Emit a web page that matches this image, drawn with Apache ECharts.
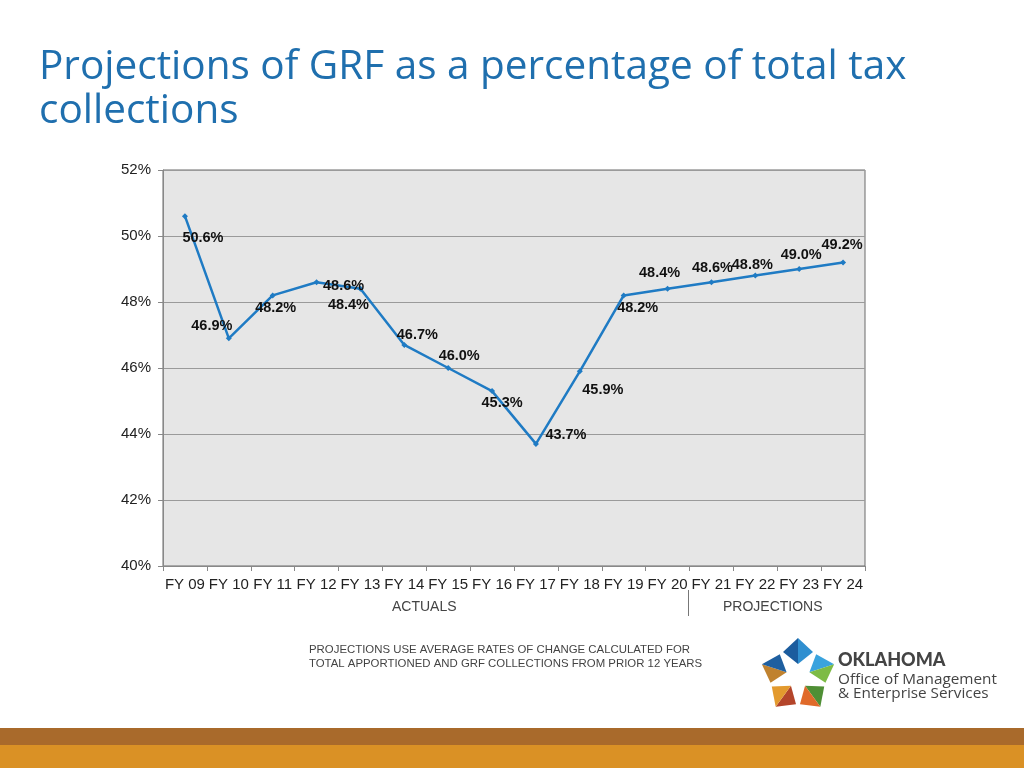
<!DOCTYPE html>
<html>
<head>
<meta charset="utf-8">
<script src="https://cdn.jsdelivr.net/npm/echarts@6/dist/echarts.min.js"></script>
<style>
html,body{margin:0;padding:0;background:#fff;}
#chart{width:1024px;height:768px;}
</style>
</head>
<body>
<div id="chart"></div>
<script>
var categories = ['FY 09','FY 10','FY 11','FY 12','FY 13','FY 14','FY 15','FY 16','FY 17','FY 18','FY 19','FY 20','FY 21','FY 22','FY 23','FY 24'];
var values = [50.6, 46.9, 48.2, 48.6, 48.4, 46.7, 46.0, 45.3, 43.7, 45.9, 48.2, 48.4, 48.6, 48.8, 49.0, 49.2];
var yTicks = [40, 42, 44, 46, 48, 50, 52];
var sectionLabels = ['ACTUALS', 'PROJECTIONS'];
var footnote = ['PROJECTIONS USE AVERAGE RATES OF CHANGE CALCULATED FOR', 'TOTAL APPORTIONED AND GRF COLLECTIONS FROM PRIOR 12 YEARS'];

// label placement offsets (pixels from point to label centre)
var labelOffsets = [[18,22],[-17,-12],[3,13],[27,4],[-12,16],[13,-10],[11,-12],[10,12],[30,-9],[23,19],[14,13],[-8,-16],[1,-14],[-3,-11],[2,-14],[-1,-17]];

var seriesData = values.map(function(v, i){
  return {value: v, label: {offset: labelOffsets[i]}};
});

// logo pieces
var logoCx = 798, logoCy = 676;
var logoColors = [['#1b5c9e','#2f8fd0'],['#3aa3de','#7dbb45'],['#4f8f35','#e06a2a'],['#b4452a','#e39a2e'],['#c0822f','#1e5fa0']];
var logoEls = [];
logoColors.forEach(function(c, k){
  var rot = -k * 72 * Math.PI / 180;
  logoEls.push({type:'polygon', x: logoCx, y: logoCy, rotation: rot, shape:{points:[[0,-38],[0,-12],[-15,-24]]}, style:{fill:c[0]}});
  logoEls.push({type:'polygon', x: logoCx, y: logoCy, rotation: rot, shape:{points:[[0,-38],[15,-24],[0,-12]]}, style:{fill:c[1]}});
});

var chart = echarts.init(document.getElementById('chart'));
var option = {
  animation: false,
  backgroundColor: '#ffffff',
  title: {
    text: 'Projections of GRF as a percentage of total tax\ncollections',
    left: 34, top: 40,
    textStyle: {fontFamily: 'Open Sans', fontWeight: 'normal', fontSize: 40.5, lineHeight: 44, color: '#1f6fae'}
  },
  grid: {left: 163, right: 159, top: 170, bottom: 202, show: true, backgroundColor: '#e6e6e6', borderColor: '#6a6a6a', borderWidth: 1},
  xAxis: {
    type: 'category', data: categories, boundaryGap: true,
    axisLine: {lineStyle: {color: '#888', width: 1}},
    axisTick: {show: true, length: 5, lineStyle: {color: '#888'}},
    axisLabel: {interval: 0, margin: 11, fontSize: 15, color: '#222', fontFamily: 'Liberation Sans, Arial'}
  },
  yAxis: {
    type: 'value', min: yTicks[0], max: yTicks[yTicks.length-1], interval: 2,
    axisLine: {show: true, lineStyle: {color: '#888', width: 1}},
    axisTick: {show: true, length: 5, lineStyle: {color: '#888'}},
    axisLabel: {formatter: '{value}%', margin: 12, fontSize: 15, color: '#222', fontFamily: 'Liberation Sans, Arial'},
    splitLine: {lineStyle: {color: '#9a9a9a', width: 1}}
  },
  series: [{
    type: 'line', data: seriesData,
    symbol: 'diamond', symbolSize: 6,
    lineStyle: {color: '#1f7bc4', width: 2.5},
    itemStyle: {color: '#1f7bc4'},
    label: {show: true, position: 'inside', formatter: function(p){ return p.value.toFixed(1) + '%'; },
      fontFamily: 'Liberation Sans, Arial', fontWeight: 'bold', fontSize: 14.5, color: '#111'}
  }],
  graphic: [
    {type:'text', left: 392, top: 600, style:{text: sectionLabels[0], fontFamily:'Liberation Sans, Arial', fontSize: 14, fill:'#444'}},
    {type:'text', left: 723, top: 600, style:{text: sectionLabels[1], fontFamily:'Liberation Sans, Arial', fontSize: 14, fill:'#444'}},
    {type:'line', shape:{x1: 688.5, y1: 590, x2: 688.5, y2: 616}, style:{stroke:'#777', lineWidth: 1}},
    {type:'text', left: 309, top: 643, style:{text: footnote.join('\n'), fontFamily:'Liberation Sans, Arial', fontSize: 11.4, lineHeight: 14, fill:'#444'}},
    {type:'text', left: 838, top: 651, style:{text: 'OKLAHOMA', fontFamily:'Lato', fontWeight:'900', fontSize: 18, fill:'#444'}},
    {type:'text', left: 838, top: 672, style:{text: 'Office of Management\n& Enterprise Services', fontFamily:'Open Sans', fontSize: 15.3, lineHeight: 14.5, fill:'#444'}},
    {type:'rect', shape:{x:0, y:728, width:1024, height:17}, style:{fill:'#a96a2b'}},
    {type:'rect', shape:{x:0, y:745, width:1024, height:23}, style:{fill:'#da9125'}}
  ].concat(logoEls)
};
chart.setOption(option);
</script>
</body>
</html>
